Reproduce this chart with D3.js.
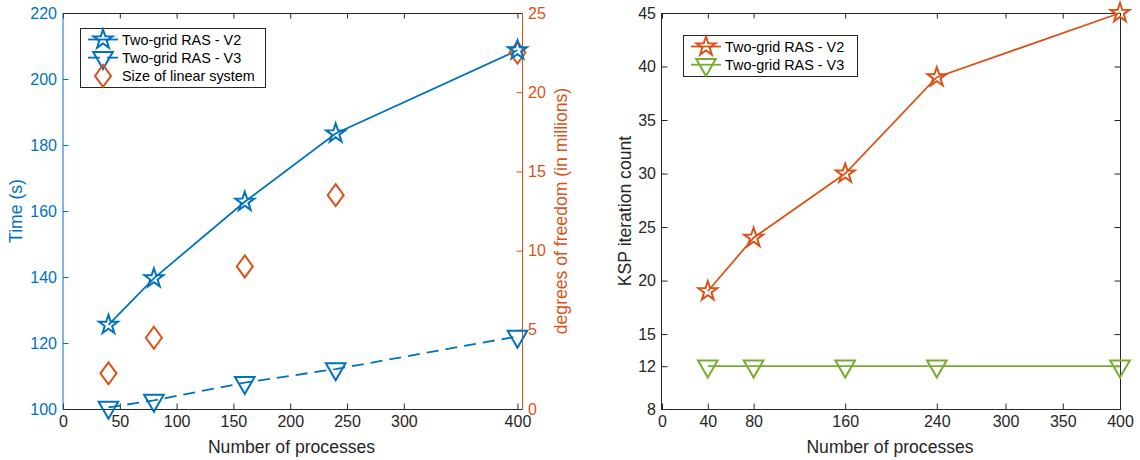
<!DOCTYPE html>
<html>
<head>
<meta charset="utf-8">
<script src="https://cdn.jsdelivr.net/npm/d3@7"></script>
<style>
  body { margin: 0; background: #fff; }
  svg { display: block; }
  text { font-family: "Liberation Sans", Arial, Helvetica, sans-serif; }
</style>
</head>
<body>
<svg id="chart" width="1140" height="460"></svg>
<script>
// ---- data ----
const processes   = [40, 80, 160, 240, 400];
const timeV2      = [125.5, 139.6, 162.8, 183.5, 208.7];   // seconds
const timeV3      = [100.5, 102.6, 108.0, 112.1, 122.0];   // seconds
const dofMillions = [2.25, 4.5, 9.0, 13.5, 22.5];          // degrees of freedom (millions)
const kspV2       = [19, 24, 30, 39, 45];
const kspV3       = [12, 12, 12, 12, 12];

const leftXTicks  = [0, 50, 100, 150, 200, 250, 300, 400];
const timeTicks   = [100, 120, 140, 160, 180, 200, 220];
const dofTicks    = [0, 5, 10, 15, 20, 25];
const rightXTicks = [0, 40, 80, 160, 240, 300, 350, 400];
const kspTicks    = [8, 12, 15, 20, 25, 30, 35, 40, 45];

const seriesNames = ["Two-grid RAS - V2", "Two-grid RAS - V3", "Size of linear system"];

// ---- style ----
const BLUE = "#0072BD", ORANGE = "#D95319", GREEN = "#77AC30", INK = "#262626";
const TICK_FONT = 16, LABEL_FONT = 17.6, LEGEND_FONT = 14.4;
const TICK_LEN = 5.5, LW = 1.8, MW = 2;

const svg = d3.select("#chart");

// marker shapes centred on the data point
function starPath(R) {
  const pts = d3.range(10).map(i => {
    const a = (-90 + i * 36) * Math.PI / 180;
    const r = i % 2 === 0 ? R : R * 0.39;
    return [r * Math.cos(a), r * Math.sin(a)];
  });
  return "M" + pts.map(p => p.join(",")).join("L") + "Z";
}
const STAR = starPath(10);
const TRI = "M-9.8,-5.7L9.8,-5.7L0,11.3Z";
const DIAMOND = "M0,-11L8,0L0,11L-8,0Z";

function drawMarkers(g, xs, ys, x, y, shape, color) {
  g.selectAll(null).data(xs).enter().append("path")
    .attr("d", shape)
    .attr("transform", (d, i) => `translate(${x(d)},${y(ys[i])})`)
    .attr("fill", "none").attr("stroke", color).attr("stroke-width", MW)
    .attr("stroke-linejoin", "miter");
}

function drawLine(g, xs, ys, x, y, color, dash) {
  const line = d3.line().x((d, i) => x(xs[i])).y(d => y(d));
  g.append("path").datum(ys)
    .attr("d", line)
    .attr("fill", "none").attr("stroke", color).attr("stroke-width", LW)
    .attr("stroke-dasharray", dash || null);
}

function styleAxis(sel, color) {
  sel.select(".domain").remove();
  sel.selectAll(".tick line").attr("stroke", color).attr("stroke-width", 1);
  sel.selectAll(".tick text").attr("fill", color)
    .style("font-size", TICK_FONT + "px");
}

function axisGroup(gen, tx, ty, color, withLabels) {
  const g = svg.append("g").attr("transform", `translate(${tx},${ty})`).call(gen);
  styleAxis(g, color);
  if (!withLabels) g.selectAll(".tick text").remove();
  return g;
}

function frameLine(x1, y1, x2, y2, color) {
  svg.append("line").attr("x1", x1).attr("y1", y1).attr("x2", x2).attr("y2", y2)
    .attr("stroke", color).attr("stroke-width", 1);
}

function legend(x0, y0, w, h, rows) {
  const g = svg.append("g");
  g.append("rect").attr("x", x0 + 0.5).attr("y", y0 + 0.5).attr("width", w).attr("height", h)
    .attr("fill", "#fff").attr("stroke", INK).attr("stroke-width", 1);
  rows.forEach((r, i) => {
    const cy = y0 + 11.5 + i * 18.2;
    if (r.line) {
      g.append("line").attr("x1", x0 + 8).attr("x2", x0 + 38).attr("y1", cy).attr("y2", cy)
        .attr("stroke", r.color).attr("stroke-width", LW)
        .attr("stroke-dasharray", r.dash || null);
    }
    g.append("path").attr("d", r.shape).attr("transform", `translate(${x0 + 23},${cy})`)
      .attr("fill", "none").attr("stroke", r.color).attr("stroke-width", MW);
    g.append("text").attr("x", x0 + 42).attr("y", cy).attr("dy", "0.36em")
      .attr("fill", "#000").style("font-size", LEGEND_FONT + "px").text(r.name);
  });
}

function yLabel(txt, x, y, color) {
  svg.append("text")
    .attr("transform", `translate(${x},${y}) rotate(-90)`)
    .attr("text-anchor", "middle").attr("dominant-baseline", "central")
    .attr("fill", color).style("font-size", LABEL_FONT + "px").text(txt);
}
function xLabel(txt, x, y) {
  svg.append("text").attr("x", x).attr("y", y)
    .attr("text-anchor", "middle").attr("fill", INK)
    .style("font-size", LABEL_FONT + "px").text(txt);
}

// ================= left panel: time and problem size =================
{
  const L = 63, R = 522, T = 13, B = 409;
  const x = d3.scaleLinear().domain([0, 404]).range([L, R]);
  const yT = d3.scaleLinear().domain([100, 220]).range([B, T]);
  const yD = d3.scaleLinear().domain([0, 25]).range([B, T]);

  axisGroup(d3.axisBottom(x).tickValues(leftXTicks).tickSizeInner(-TICK_LEN).tickSizeOuter(0).tickPadding(7), 0, B, INK, true);
  axisGroup(d3.axisTop(x).tickValues(leftXTicks).tickSizeInner(-TICK_LEN).tickSizeOuter(0), 0, T, INK, false);
  axisGroup(d3.axisLeft(yT).tickValues(timeTicks).tickSizeInner(-TICK_LEN).tickSizeOuter(0).tickPadding(6), L, 0, BLUE, true);
  axisGroup(d3.axisRight(yD).tickValues(dofTicks).tickSizeInner(-TICK_LEN).tickSizeOuter(0).tickPadding(6), R, 0, ORANGE, true);

  frameLine(L, T + 0.5, R, T + 0.5, INK);
  frameLine(L, B + 0.5, R, B + 0.5, INK);
  frameLine(L, T, L, B + 1, BLUE);
  frameLine(R + 0.5, T, R + 0.5, B + 1, ORANGE);

  const g = svg.append("g");
  drawLine(g, processes, timeV2, x, yT, BLUE);
  drawLine(g, processes, timeV3, x, yT, BLUE, "12,7");
  drawMarkers(g, processes, dofMillions, x, yD, DIAMOND, ORANGE);
  drawMarkers(g, processes, timeV2, x, yT, STAR, BLUE);
  drawMarkers(g, processes, timeV3, x, yT, TRI, BLUE);

  yLabel("Time (s)", 16, 211, BLUE);
  yLabel("degrees of freedom (in millions)", 561, 211, ORANGE);
  xLabel("Number of processes", (L + R) / 2 - 1, 453);

  legend(80, 28, 185, 59, [
    { name: seriesNames[0], color: BLUE, shape: STAR, line: true },
    { name: seriesNames[1], color: BLUE, shape: TRI, line: true, dash: "12,7" },
    { name: seriesNames[2], color: ORANGE, shape: DIAMOND, line: false }
  ]);
}

// ================= right panel: KSP iterations =================
{
  const L = 662, R = 1120, T = 13, B = 409;
  const x = d3.scaleLinear().domain([0, 400]).range([L, R]);
  const y = d3.scaleLinear().domain([8, 45]).range([B, T]);

  axisGroup(d3.axisBottom(x).tickValues(rightXTicks).tickSizeInner(-TICK_LEN).tickSizeOuter(0).tickPadding(7), 0, B, INK, true);
  axisGroup(d3.axisTop(x).tickValues(rightXTicks).tickSizeInner(-TICK_LEN).tickSizeOuter(0), 0, T, INK, false);
  axisGroup(d3.axisLeft(y).tickValues(kspTicks).tickSizeInner(-TICK_LEN).tickSizeOuter(0).tickPadding(6), L, 0, INK, true);
  axisGroup(d3.axisRight(y).tickValues(kspTicks).tickSizeInner(-TICK_LEN).tickSizeOuter(0), R, 0, INK, false);

  frameLine(L, T + 0.5, R, T + 0.5, INK);
  frameLine(L, B + 0.5, R, B + 0.5, INK);
  frameLine(L - 0.5, T, L - 0.5, B + 1, INK);
  frameLine(R + 0.5, T, R + 0.5, B + 1, INK);

  const g = svg.append("g");
  drawLine(g, processes, kspV2, x, y, ORANGE);
  drawLine(g, processes, kspV3, x, y, GREEN);
  drawMarkers(g, processes, kspV2, x, y, STAR, ORANGE);
  drawMarkers(g, processes, kspV3, x, y, TRI, GREEN);

  yLabel("KSP iteration count", 625, 211, INK);
  xLabel("Number of processes", (L + R) / 2 - 1, 453);

  legend(683, 35, 174, 41, [
    { name: seriesNames[0], color: ORANGE, shape: STAR, line: true },
    { name: seriesNames[1], color: GREEN, shape: TRI, line: true }
  ]);
}
</script>
</body>
</html>
